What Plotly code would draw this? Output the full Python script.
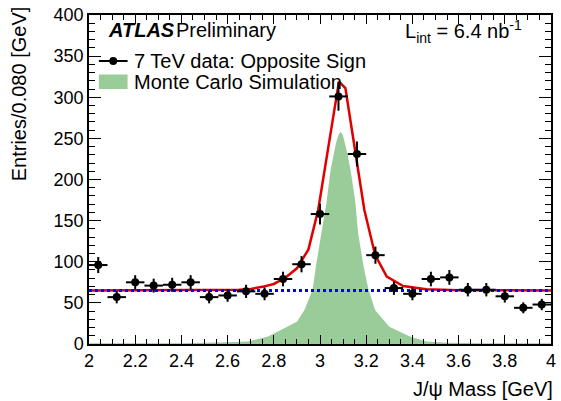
import numpy as np
import plotly.graph_objects as go

# ---- data ----
mass_bins = [2.04, 2.12, 2.20, 2.28, 2.36, 2.44, 2.52, 2.60, 2.68, 2.76, 2.84, 2.92, 3.00,
             3.08, 3.16, 3.24, 3.32, 3.40, 3.48, 3.56, 3.64, 3.72, 3.80, 3.88, 3.96]
entries = [96, 57, 75, 71, 72, 75, 57, 59, 64, 61, 79, 97, 158,
           301, 231, 108, 68, 61, 79, 81, 66, 66, 58, 44, 48]
half_bin = 0.04

fit_x = [2.00, 2.50, 2.65, 2.70, 2.75, 2.80, 2.85, 2.90, 2.95, 2.992, 3.082, 3.11,
         3.192, 3.239, 3.289, 3.36, 3.46, 3.60, 4.00]
fit_y = [65, 65.3, 66, 67, 69.5, 73, 80.5, 92, 115, 163, 319, 311,
         163, 108, 82, 70.5, 66.5, 65.5, 65]

bkg_x = [2.0, 4.0]
bkg_y = [65, 65]

mc_x = [2.00, 2.40, 2.60, 2.69, 2.775, 2.861, 2.90, 2.932, 2.968, 2.982, 3.006, 3.028,
        3.046, 3.060, 3.069, 3.080, 3.089, 3.099, 3.109, 3.118, 3.132, 3.153, 3.165,
        3.189, 3.21, 3.239, 3.30, 3.389, 3.46, 3.55, 3.70, 4.00]
mc_y = [1, 1, 2, 3, 9, 21, 27, 41, 66, 94, 135, 172,
        212, 232, 244, 254, 258, 254, 244, 232, 212, 173, 135,
        94, 66, 41, 21, 9, 3, 1.5, 1, 1]

x_ticks = [2, 2.2, 2.4, 2.6, 2.8, 3, 3.2, 3.4, 3.6, 3.8, 4]
x_ticklabels = ["2", "2.2", "2.4", "2.6", "2.8", "3", "3.2", "3.4", "3.6", "3.8", "4"]
y_ticks = [0, 50, 100, 150, 200, 250, 300, 350, 400]

legend_data = "7 TeV data: Opposite Sign"
legend_mc = "Monte Carlo Simulation"

FONT = "Liberation Sans, Arial, Helvetica, sans-serif"
MC_GREEN = "#99CC99"

W, H = 561, 401
L, R, T, B = 89, 5, 15, 57
PW, PH = W - L - R, H - T - B


def px(xp):
    return (xp - L) / PW


def py(yp):
    return (H - B - yp) / PH


fig = go.Figure()

fig.add_trace(go.Scatter(x=mc_x, y=mc_y, mode="lines", fill="tozeroy",
                         fillcolor=MC_GREEN, line=dict(width=0, color=MC_GREEN),
                         name=legend_mc, showlegend=False, hoverinfo="skip"))
fig.add_trace(go.Scatter(x=fit_x, y=fit_y, mode="lines",
                         line=dict(color="#e00000", width=2.5),
                         showlegend=False, hoverinfo="skip"))
fig.add_trace(go.Scatter(x=bkg_x, y=bkg_y, mode="lines",
                         line=dict(color="#0000ff", width=3, dash="3px,3px"),
                         showlegend=False, hoverinfo="skip"))
fig.add_trace(go.Scatter(x=mass_bins, y=entries, mode="markers",
                         marker=dict(color="black", size=8, symbol="circle"),
                         error_y=dict(type="data", array=list(np.sqrt(entries)),
                                      color="black", thickness=2, width=0),
                         error_x=dict(type="constant", value=half_bin,
                                      color="black", thickness=2, width=0),
                         name=legend_data, showlegend=False))

axis_common = dict(showline=True, linecolor="black", linewidth=1.5, mirror="ticks",
                   ticks="inside", tickcolor="black", tickwidth=1, showgrid=False,
                   zeroline=False, tickfont=dict(family=FONT, size=18, color="black"))

fig.update_xaxes(range=[2, 4], tickvals=x_ticks, ticktext=x_ticklabels, ticklen=9,
                 minor=dict(ticks="inside", ticklen=5, dtick=0.05, tickcolor="black",
                            tickwidth=1, showgrid=False),
                 **axis_common)
fig.update_yaxes(range=[0, 400], tickvals=y_ticks, ticklen=12,
                 minor=dict(ticks="inside", ticklen=6, dtick=10, tickcolor="black",
                            tickwidth=1, showgrid=False),
                 **axis_common)

ann = []
txt = dict(family=FONT, size=20, color="black")
ann.append(dict(text="<b><i>ATLAS</i></b>", x=px(106), y=py(30.5), xanchor="left",
                yanchor="middle", font=txt))
ann.append(dict(text="Preliminary", x=px(175), y=py(30.5), xanchor="left",
                yanchor="middle", font=txt))
ann.append(dict(text="L<sub>int</sub> = 6.4 nb<sup>-1</sup>", x=px(406), y=py(31),
                xanchor="left", yanchor="middle", font=txt))
ann.append(dict(text=legend_data, x=px(132), y=py(61), xanchor="left",
                yanchor="middle", font=txt))
ann.append(dict(text=legend_mc, x=px(132), y=py(81.5), xanchor="left",
                yanchor="middle", font=txt))
ann.append(dict(text="Entries/0.080 [GeV]", textangle=-90, x=px(19), y=py(4),
                xanchor="center", yanchor="top", font=txt))
ann.append(dict(text="J/ψ Mass [GeV]", x=px(560), y=py(389), xanchor="right",
                yanchor="middle", font=txt))
for a in ann:
    a.update(xref="paper", yref="paper", showarrow=False)

shapes = [
    dict(type="line", xref="paper", yref="paper", x0=px(99), x1=px(128),
         y0=py(61), y1=py(61), line=dict(color="black", width=2)),
    dict(type="circle", xref="paper", yref="paper", x0=px(109.5), x1=px(117.5),
         y0=py(57), y1=py(65), fillcolor="black", line=dict(color="black", width=0)),
    dict(type="rect", xref="paper", yref="paper", x0=px(99), x1=px(128),
         y0=py(74.5), y1=py(89), fillcolor=MC_GREEN, line=dict(width=0)),
]

fig.update_layout(width=W, height=H, margin=dict(l=L, r=R, t=T, b=B, pad=0),
                  paper_bgcolor="white", plot_bgcolor="white",
                  annotations=ann, shapes=shapes, showlegend=False,
                  font=dict(family=FONT, color="black"))

fig.write_html("out.html",
               config={"displayModeBar": False},
               post_script="document.body.style.margin='0px';"
                           "document.body.style.padding='0px';"
                           "document.body.style.overflow='hidden';")
